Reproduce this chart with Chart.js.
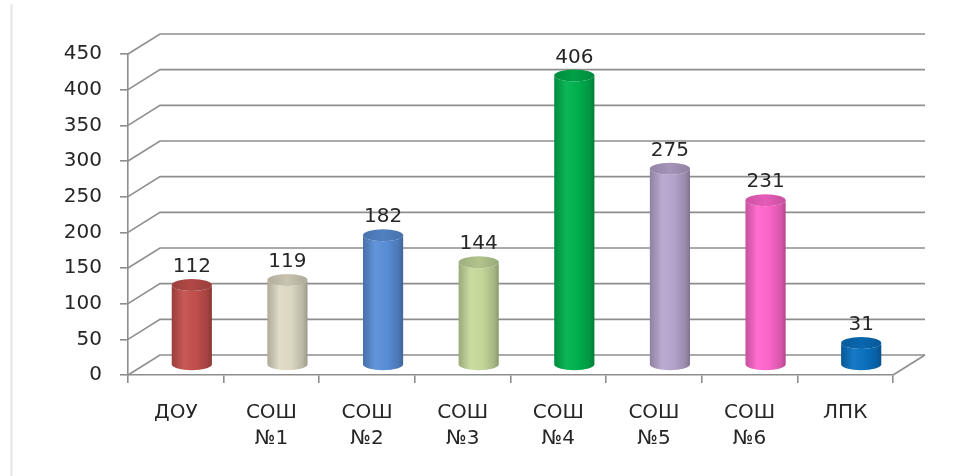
<!DOCTYPE html>
<html>
<head>
<meta charset="utf-8">
<script src="https://cdn.jsdelivr.net/npm/chart.js@4.4.1/dist/chart.umd.min.js"></script>
<style>
  html, body { margin: 0; padding: 0; background: #fff; }
  #wrap { position: relative; width: 964px; height: 476px; }
  #edge { position: absolute; left: 10px; top: 4px; width: 3px; height: 472px;
          background: linear-gradient(to right, #f6f6f6, #e6e6e6, #f8f8f8); }
</style>
</head>
<body>
<div id="wrap">
  <div id="edge"></div>
  <canvas id="chart" width="964" height="476"></canvas>
</div>
<script>
// ====== DATA ======
const categories = [['ДОУ'], ['СОШ', '№1'], ['СОШ', '№2'], ['СОШ', '№3'], ['СОШ', '№4'], ['СОШ', '№5'], ['СОШ', '№6'], ['ЛПК']];
const values = [112, 119, 182, 144, 406, 275, 231, 31];
const barColors = ['#C4504D', '#DEDAC4', '#5A8FD8', '#C6DA9C', '#00B24E', '#B7A5CE', '#FF66CC', '#0A72C2'];
const yMin = 0;
const yMax = 450;
const yStep = 50;

// ====== 3D SETTINGS ======
const DEPTH_X = 32;
const DEPTH_Y = -20;
const GRID_COLOR = '#8e8e8e';
const TEXT_COLOR = '#262626';
const FONT = '"DejaVu Sans", Verdana, sans-serif';

function shade(hex, f) {
    const n = parseInt(hex.slice(1), 16);
    let r = (n >> 16) & 255, g = (n >> 8) & 255, b = n & 255;
    const mix = (c) => f < 1 ? Math.round(c * f) : Math.round(c + (255 - c) * (f - 1));
    return `rgb(${mix(r)}, ${mix(g)}, ${mix(b)})`;
}

// ====== BACK WALL, FLOOR, DIAGONALS ======
const frame3d = {
    id: 'frame3d',
    beforeDatasetsDraw(chart) {
        const { ctx, chartArea: a, scales: { y } } = chart;
        ctx.save();
        ctx.strokeStyle = GRID_COLOR;
        ctx.lineWidth = 1.6;
        y.ticks.forEach(t => {
            const py = y.getPixelForValue(t.value);
            ctx.beginPath();
            ctx.moveTo(a.left, py);
            ctx.lineTo(a.left + DEPTH_X, py + DEPTH_Y);
            ctx.lineTo(a.right + DEPTH_X, py + DEPTH_Y);
            ctx.stroke();
        });
        ctx.beginPath();
        ctx.moveTo(a.right, a.bottom);
        ctx.lineTo(a.right + DEPTH_X, a.bottom + DEPTH_Y);
        ctx.stroke();
        ctx.restore();
    }
};

// ====== CYLINDERS + VALUE LABELS ======
const cylinders = {
    id: 'cylinders',
    afterDatasetsDraw(chart) {
        const { ctx } = chart;
        const meta = chart.getDatasetMeta(0);
        ctx.save();
        meta.data.forEach((bar, i) => {
            const col = barColors[i];
            const cx = bar.x + DEPTH_X / 2;
            const rx = bar.width / 2;
            const ry = 6;
            const top = bar.y + DEPTH_Y / 2;
            const bot = bar.base + DEPTH_Y / 2;

            const grad = ctx.createLinearGradient(cx - rx, 0, cx + rx, 0);
            grad.addColorStop(0, shade(col, 0.78));
            grad.addColorStop(0.3, shade(col, 1.05));
            grad.addColorStop(0.6, shade(col, 0.98));
            grad.addColorStop(0.88, shade(col, 0.84));
            grad.addColorStop(1, shade(col, 0.7));

            ctx.beginPath();
            ctx.moveTo(cx - rx, top);
            ctx.lineTo(cx - rx, bot);
            ctx.ellipse(cx, bot, rx, ry, 0, Math.PI, 0, true);
            ctx.lineTo(cx + rx, top);
            ctx.ellipse(cx, top, rx, ry, 0, 0, Math.PI, false);
            ctx.closePath();
            ctx.fillStyle = grad;
            ctx.fill();

            const capGrad = ctx.createLinearGradient(cx - rx, 0, cx + rx, 0);
            capGrad.addColorStop(0, shade(col, 0.8));
            capGrad.addColorStop(0.5, shade(col, 0.9));
            capGrad.addColorStop(1, shade(col, 0.78));
            ctx.beginPath();
            ctx.ellipse(cx, top, rx, ry, 0, 0, Math.PI * 2);
            ctx.fillStyle = capGrad;
            ctx.fill();

            ctx.fillStyle = TEXT_COLOR;
            ctx.font = `20px ${FONT}`;
            ctx.textAlign = 'center';
            ctx.textBaseline = 'middle';
            ctx.fillText(String(values[i]), cx, top - 18);
        });
        ctx.restore();
    }
};

new Chart(document.getElementById('chart'), {
    type: 'bar',
    data: {
        labels: categories,
        datasets: [{
            data: values,
            backgroundColor: 'rgba(0,0,0,0)',
            borderWidth: 0,
            barPercentage: 0.84,
            categoryPercentage: 0.5
        }]
    },
    options: {
        responsive: false,
        animation: false,
        layout: { padding: { top: 54, right: 71, bottom: 0, left: 0 } },
        plugins: { legend: { display: false }, tooltip: { enabled: false } },
        scales: {
            x: {
                afterFit(scale) { scale.height = 101; },
                grid: { display: true, drawOnChartArea: false, drawTicks: true, tickLength: 8, color: GRID_COLOR, lineWidth: 1.6 },
                border: { display: true, color: GRID_COLOR, width: 1.6 },
                ticks: { color: TEXT_COLOR, padding: 17, maxRotation: 0, font: { family: FONT, size: 20, lineHeight: 1.3 } }
            },
            y: {
                min: yMin,
                max: yMax,
                afterFit(scale) { scale.width = 128; },
                grid: { display: true, drawOnChartArea: false, drawTicks: true, tickLength: 8, color: GRID_COLOR, lineWidth: 1.6 },
                border: { display: true, color: GRID_COLOR, width: 1.6 },
                ticks: { stepSize: yStep, color: TEXT_COLOR, padding: 18, font: { family: FONT, size: 20 } }
            }
        }
    },
    plugins: [frame3d, cylinders]
});
</script>
</body>
</html>
